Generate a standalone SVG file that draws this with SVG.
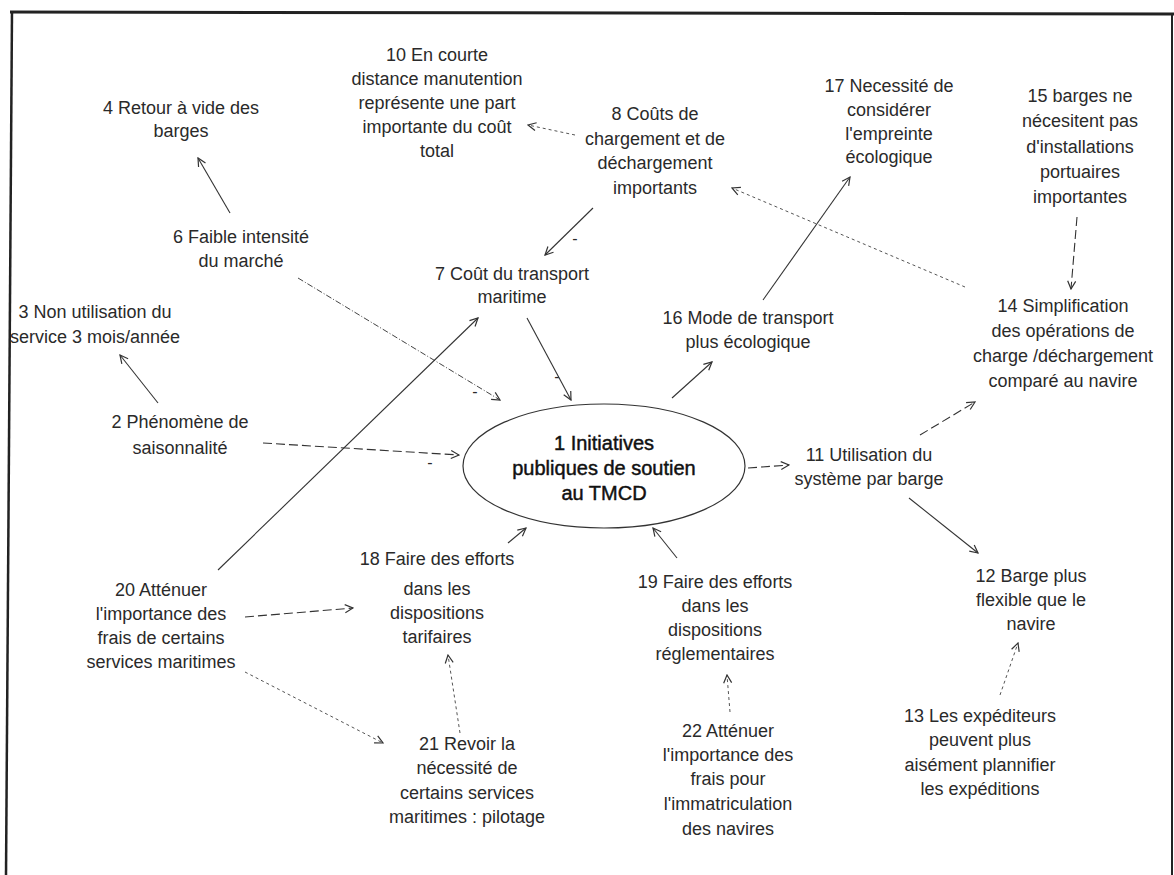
<svg xmlns="http://www.w3.org/2000/svg" width="1174" height="875" viewBox="0 0 1174 875">
<style>
  text { font-family: "Liberation Sans", Arial, sans-serif; font-size: 18px; fill: #2a2a2a; text-anchor: middle; }
  .center text { font-size: 20px; fill: #111; stroke: #111; stroke-width: 0.45; }
  .sign { font-size: 16px; }
  .solid { stroke: #333; stroke-width: 1.1; fill: none; }
  .dash { stroke: #333; stroke-width: 1.1; fill: none; stroke-dasharray: 9 4; }
  .fine { stroke: #444; stroke-width: 1; fill: none; stroke-dasharray: 6 2 1 2; }
  .dot { stroke: #555; stroke-width: 1; fill: none; stroke-dasharray: 3 3; }
  .frame { stroke: #222; fill: none; }
</style>
<defs>
  <marker id="ah" viewBox="0 0 10 10" refX="9" refY="5" markerWidth="10" markerHeight="10" markerUnits="userSpaceOnUse" orient="auto">
    <path d="M1,1 L9,5 L1,9" fill="none" stroke="#333" stroke-width="1.2"/>
  </marker>
</defs>
<rect width="1174" height="875" fill="#fff"/>

<g id="n1" class="center">
  <ellipse cx="604" cy="466" rx="141" ry="62" fill="none" stroke="#333" stroke-width="1.2"/>
  <text x="604" y="450">1 Initiatives</text>
  <text x="604" y="475">publiques de soutien</text>
  <text x="604" y="500">au TMCD</text>
</g>
<g id="n2"><text x="180" y="428">2 Phénomène de</text><text x="180" y="454">saisonnalité</text></g>
<g id="n3"><text x="95" y="318">3 Non utilisation du</text><text x="95" y="343">service 3 mois/année</text></g>
<g id="n4"><text x="181" y="114">4 Retour à vide des</text><text x="181" y="137">barges</text></g>
<g id="n6"><text x="241" y="243">6 Faible intensité</text><text x="241" y="267">du marché</text></g>
<g id="n7"><text x="512" y="280">7 Coût du transport</text><text x="512" y="303">maritime</text></g>
<g id="n8"><text x="655" y="120">8 Coûts de</text><text x="655" y="145">chargement et de</text><text x="655" y="169">déchargement</text><text x="655" y="194">importants</text></g>
<g id="n10"><text x="437" y="61">10 En courte</text><text x="437" y="85">distance manutention</text><text x="437" y="109">représente une part</text><text x="437" y="133">importante du coût</text><text x="437" y="157">total</text></g>
<g id="n11"><text x="869" y="461">11 Utilisation du</text><text x="869" y="485">système par barge</text></g>
<g id="n12"><text x="1031" y="582">12 Barge plus</text><text x="1031" y="606">flexible que le</text><text x="1031" y="630">navire</text></g>
<g id="n13"><text x="980" y="722">13 Les expéditeurs</text><text x="980" y="746">peuvent plus</text><text x="980" y="771">aisément plannifier</text><text x="980" y="795">les expéditions</text></g>
<g id="n14"><text x="1063" y="312">14 Simplification</text><text x="1063" y="337">des opérations de</text><text x="1063" y="362">charge /déchargement</text><text x="1063" y="387">comparé au navire</text></g>
<g id="n15"><text x="1080" y="102">15 barges ne</text><text x="1080" y="127">nécesitent pas</text><text x="1080" y="153">d'installations</text><text x="1080" y="178">portuaires</text><text x="1080" y="203">importantes</text></g>
<g id="n16"><text x="748" y="324">16 Mode de transport</text><text x="748" y="348">plus écologique</text></g>
<g id="n17"><text x="889" y="92">17 Necessité de</text><text x="889" y="116">considérer</text><text x="889" y="140">l'empreinte</text><text x="889" y="163">écologique</text></g>
<g id="n18"><text x="437" y="565">18 Faire des efforts</text><text x="437" y="595">dans les</text><text x="437" y="619">dispositions</text><text x="437" y="643">tarifaires</text></g>
<g id="n19"><text x="715" y="588">19 Faire des efforts</text><text x="715" y="612">dans les</text><text x="715" y="636">dispositions</text><text x="715" y="660">réglementaires</text></g>
<g id="n20"><text x="161" y="596">20 Atténuer</text><text x="161" y="620">l'importance des</text><text x="161" y="644">frais de certains</text><text x="161" y="668">services maritimes</text></g>
<g id="n21"><text x="467" y="750">21 Revoir la</text><text x="467" y="774">nécessité de</text><text x="467" y="799">certains services</text><text x="467" y="823">maritimes : pilotage</text></g>
<g id="n22"><text x="728" y="737">22 Atténuer</text><text x="728" y="761">l'importance des</text><text x="728" y="785">frais pour</text><text x="728" y="810">l'immatriculation</text><text x="728" y="835">des navires</text></g>

<g id="connectors">
  <line class="solid" x1="230" y1="213" x2="198" y2="158" marker-end="url(#ah)"/>
  <line class="fine" x1="298" y1="278" x2="500" y2="400" marker-end="url(#ah)"/>
  <line class="solid" x1="527" y1="318" x2="571" y2="400" marker-end="url(#ah)"/>
  <line class="solid" x1="593" y1="208" x2="545" y2="255" marker-end="url(#ah)"/>
  <line class="dot" x1="575" y1="135" x2="528" y2="125" marker-end="url(#ah)"/>
  <line class="dot" x1="965" y1="287" x2="732" y2="188" marker-end="url(#ah)"/>
  <line class="solid" x1="672" y1="398" x2="712" y2="362" marker-end="url(#ah)"/>
  <line class="solid" x1="763" y1="300" x2="850" y2="177" marker-end="url(#ah)"/>
  <line class="dash" x1="748" y1="468" x2="789" y2="465" marker-end="url(#ah)"/>
  <line class="dash" x1="920" y1="435" x2="975" y2="402" marker-end="url(#ah)"/>
  <line class="solid" x1="909" y1="498" x2="978" y2="553" marker-end="url(#ah)"/>
  <line class="dash" x1="1077" y1="217" x2="1071" y2="289" marker-end="url(#ah)"/>
  <line class="dot" x1="1000" y1="695" x2="1018" y2="643" marker-end="url(#ah)"/>
  <line class="solid" x1="158" y1="403" x2="120" y2="355" marker-end="url(#ah)"/>
  <line class="dash" x1="263" y1="443" x2="459" y2="455" marker-end="url(#ah)"/>
  <line class="solid" x1="218" y1="570" x2="478" y2="318" marker-end="url(#ah)"/>
  <line class="dash" x1="245" y1="617" x2="353" y2="608" marker-end="url(#ah)"/>
  <line class="dot" x1="245" y1="672" x2="383" y2="743" marker-end="url(#ah)"/>
  <line class="solid" x1="508" y1="543" x2="526" y2="528" marker-end="url(#ah)"/>
  <line class="solid" x1="677" y1="558" x2="653" y2="528" marker-end="url(#ah)"/>
  <line class="dot" x1="460" y1="733" x2="448" y2="655" marker-end="url(#ah)"/>
  <line class="dot" x1="730" y1="712" x2="727" y2="675" marker-end="url(#ah)"/>
  <text class="sign" x="575" y="244">-</text>
  <text class="sign" x="475" y="397">-</text>
  <text class="sign" x="430" y="468">-</text>
  <text class="sign" x="557" y="382">-</text>
</g>

<g id="frame">
  <line class="frame" x1="10" y1="12" x2="1174" y2="14" stroke-width="3"/>
  <line class="frame" x1="12" y1="11" x2="6" y2="875" stroke-width="2.5"/>
  <line class="frame" x1="1172" y1="13" x2="1172" y2="875" stroke-width="2"/>
</g>
</svg>
